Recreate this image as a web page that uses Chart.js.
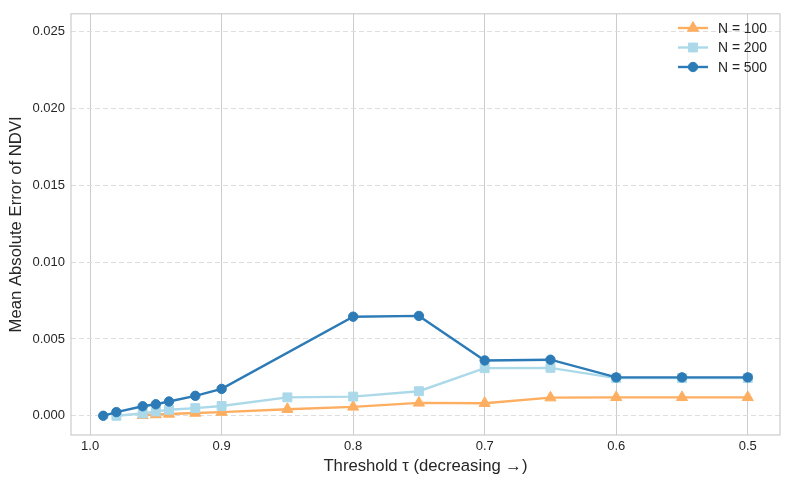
<!DOCTYPE html>
<html>
<head>
<meta charset="utf-8">
<script src="https://cdn.jsdelivr.net/npm/chart.js@4/dist/chart.umd.min.js"></script>
<style>
  html, body { margin: 0; padding: 0; background: #fff; }
  #wrap { width: 789px; height: 484px; }
</style>
</head>
<body>
<div id="wrap"><canvas id="maeChart" width="789" height="484"></canvas></div>
<script>
// thresholds (x) and MAE values (y) per sample size
const tau100 = [0.96, 0.95, 0.94, 0.92, 0.90, 0.85, 0.80, 0.75, 0.70, 0.65, 0.60, 0.55, 0.50];
const mae100 = [0.00003, 0.00008, 0.00012, 0.00018, 0.00024, 0.00043, 0.00058, 0.00084, 0.00082, 0.00118, 0.0012, 0.0012, 0.0012];

const tau200 = [0.98, 0.96, 0.95, 0.94, 0.92, 0.90, 0.85, 0.80, 0.75, 0.70, 0.65, 0.60, 0.55, 0.50];
const mae200 = [0.0, 0.00015, 0.00028, 0.00039, 0.0005, 0.00064, 0.0012, 0.00125, 0.0016, 0.0031, 0.00312, 0.00245, 0.00245, 0.00245];

const tau500 = [0.99, 0.98, 0.96, 0.95, 0.94, 0.92, 0.90, 0.80, 0.75, 0.70, 0.65, 0.60, 0.55, 0.50];
const mae500 = [0.0, 0.00024, 0.00062, 0.00075, 0.00093, 0.0013, 0.00175, 0.00645, 0.0065, 0.0036, 0.00365, 0.0025, 0.0025, 0.0025];

const xTicks = [1.0, 0.9, 0.8, 0.7, 0.6, 0.5];
const yTicks = [0.000, 0.005, 0.010, 0.015, 0.020, 0.025];

const FONT = "'Liberation Sans', Arial, sans-serif";
const TEXT = '#262626';

function series(label, xs, ys, color, style, radius, order) {
  return {
    label,
    data: xs.map((x, i) => ({ x, y: ys[i] })),
    borderColor: color,
    backgroundColor: color,
    borderWidth: 2.4,
    pointStyle: style,
    pointRadius: radius,
    pointHoverRadius: radius,
    pointBorderWidth: 1,
    pointBorderColor: color,
    pointBackgroundColor: color,
    tension: 0,
    fill: false,
    order,
  };
}

const datasets = [
  series('N = 100', tau100, mae100, '#fdae61', 'triangle', 6.4, 3),
  series('N = 200', tau200, mae200, '#abd9e9', 'rect', 6.3, 2),
  series('N = 500', tau500, mae500, '#2c7bb6', 'circle', 4.7, 1),
];

// plot frame (light grey spines on all sides)
const framePlugin = {
  id: 'frame',
  beforeDatasetsDraw(chart) {
    const { ctx, chartArea: a } = chart;
    ctx.save();
    ctx.strokeStyle = '#cccccc';
    ctx.lineWidth = 1.2;
    ctx.strokeRect(a.left, a.top, a.right - a.left, a.bottom - a.top);
    ctx.restore();
  }
};

// matplotlib-like legend: short line with marker in the middle
const legendPlugin = {
  id: 'lineLegend',
  afterDatasetsDraw(chart) {
    const { ctx } = chart;
    const x0 = 678, x1 = 708, tx = 718;
    let y = 28;
    chart.data.datasets.forEach(ds => {
      ctx.save();
      ctx.strokeStyle = ds.borderColor;
      ctx.lineWidth = ds.borderWidth;
      ctx.beginPath();
      ctx.moveTo(x0, y);
      ctx.lineTo(x1, y);
      ctx.stroke();
      ctx.fillStyle = ds.pointBackgroundColor;
      ctx.strokeStyle = ds.pointBorderColor;
      ctx.lineWidth = ds.pointBorderWidth;
      Chart.helpers.drawPoint(ctx, {
        pointStyle: ds.pointStyle, radius: ds.pointRadius, rotation: 0, borderWidth: ds.pointBorderWidth
      }, (x0 + x1) / 2, y);
      ctx.fillStyle = TEXT;
      ctx.font = `13.9px ${FONT}`;
      ctx.textBaseline = 'middle';
      ctx.fillText(ds.label, tx, y + 1);
      ctx.restore();
      y += 19.5;
    });
  }
};

new Chart(document.getElementById('maeChart').getContext('2d'), {
  type: 'line',
  data: { datasets },
  plugins: [framePlugin, legendPlugin],
  options: {
    responsive: false,
    animation: false,
    layout: { padding: { top: 10, right: 9, left: 0, bottom: 0 } },
    plugins: { legend: { display: false }, tooltip: { enabled: false } },
    scales: {
      x: {
        type: 'linear',
        reverse: true,
        min: 0.4755,
        max: 1.0145,
        afterBuildTicks: s => { s.ticks = xTicks.map(v => ({ value: v })); },
        afterFit: s => { s.height = 49; },
        ticks: {
          padding: 4,
          color: TEXT,
          font: { family: FONT, size: 13 },
          callback: v => Number(v).toFixed(1),
          maxRotation: 0,
        },
        grid: { color: '#cccccc', lineWidth: 1, drawTicks: false },
        border: { display: false },
        title: {
          display: true,
          text: 'Threshold τ (decreasing →)',
          color: TEXT,
          font: { family: FONT, size: 16.7 },
          padding: { top: 0, bottom: 8 },
        },
      },
      y: {
        type: 'linear',
        min: -0.00125,
        max: 0.02616,
        afterBuildTicks: s => { s.ticks = yTicks.map(v => ({ value: v })); },
        afterFit: s => { s.width = 71; },
        ticks: {
          padding: 6,
          color: TEXT,
          font: { family: FONT, size: 13 },
          callback: v => Number(v).toFixed(3),
        },
        grid: { color: '#dddddd', lineWidth: 1, drawTicks: false },
        border: { display: false, dash: [5, 3] },
        title: {
          display: true,
          text: 'Mean Absolute Error of NDVI',
          color: TEXT,
          font: { family: FONT, size: 16.7 },
          padding: { top: 6, bottom: 0 },
        },
      },
    },
  },
});
</script>
</body>
</html>
